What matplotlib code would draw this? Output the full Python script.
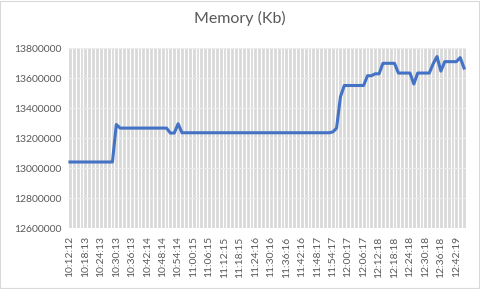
import matplotlib
matplotlib.use('Agg')
import matplotlib.pyplot as plt
import numpy as np

plt.rcParams['font.family'] = ['Lato', 'DejaVu Sans']

# one reading every ~90 s, axis labels shown every 4th point
tick_labels = ['10:12:12', '10:18:13', '10:24:13', '10:30:13', '10:36:13', '10:42:14',
               '10:48:14', '10:54:14', '11:00:15', '11:06:15', '11:12:15', '11:18:15',
               '11:24:16', '11:30:16', '11:36:16', '11:42:16', '11:48:17', '11:54:17',
               '12:00:17', '12:06:17', '12:12:18', '12:18:18', '12:24:18', '12:30:18',
               '12:36:18', '12:42:19']
label_step = 4

memory_kb = [
    13040000, 13040000, 13040000, 13040000, 13040000, 13040000, 13040000, 13040000,
    13040000, 13040000, 13040000, 13040000, 13290000, 13266000, 13266000, 13266000,
    13266000, 13266000, 13266000, 13266000, 13266000, 13266000, 13266000, 13266000,
    13266000, 13266000, 13233000, 13233000, 13295000, 13235000, 13235000, 13235000,
    13235000, 13235000, 13235000, 13235000, 13235000, 13235000, 13235000, 13235000,
    13235000, 13235000, 13235000, 13235000, 13235000, 13235000, 13235000, 13235000,
    13235000, 13235000, 13235000, 13235000, 13235000, 13235000, 13235000, 13235000,
    13235000, 13235000, 13235000, 13235000, 13235000, 13235000, 13235000, 13235000,
    13235000, 13235000, 13235000, 13235000, 13240000, 13265000, 13474000, 13550000,
    13550000, 13550000, 13550000, 13550000, 13550000, 13615000, 13615000, 13628000,
    13628000, 13698000, 13698000, 13698000, 13698000, 13633000, 13633000, 13633000,
    13633000, 13560000, 13633000, 13633000, 13633000, 13633000, 13695000, 13743000,
    13646000, 13709000, 13709000, 13709000, 13709000, 13736000, 13666000,
]

n = len(memory_kb)
x = np.arange(n)

fig = plt.figure(figsize=(4.8, 2.89), dpi=100)
ax = fig.add_axes([68/480, 1-228/289, 398/480, 180/289])

ax.set_facecolor('#d9d9d9')
ax.set_xlim(-0.5, n-0.5)
ax.set_ylim(12600000, 13800000)
ax.set_yticks(np.arange(12600000, 13800001, 200000))
ax.yaxis.set_major_formatter(matplotlib.ticker.FuncFormatter(lambda v, p: '%d' % v))

# white separators between every category, lighter horizontal gridlines
ax.set_xticks(np.arange(n+1) - 0.5, minor=True)
ax.grid(which='minor', axis='x', color='white', lw=0.9)
ax.grid(which='major', axis='y', color='#ececec', lw=0.8)
ax.set_axisbelow(True)

ax.set_xticks(x[::label_step][:len(tick_labels)])
ax.set_xticklabels(tick_labels, rotation=90)
ax.tick_params(axis='both', which='both', length=0, colors='#595959', labelsize=7.5)
ax.tick_params(axis='x', pad=6)
ax.tick_params(axis='y', pad=5)

for s in ax.spines.values():
    s.set_visible(False)

ax.plot(x, memory_kb, color='#4472c4', lw=2.2, solid_joinstyle='round')

fig.text(0.5, 1-18/289, 'Memory (Kb)', ha='center', va='center', fontsize=11.5, color='#595959')

# chart border
fig.patches.append(plt.Rectangle((0.001, 0.002), 0.997, 0.995, transform=fig.transFigure,
                                 fill=False, edgecolor='#d9d9d9', lw=0.8))

fig.savefig('out.png', dpi=100)
